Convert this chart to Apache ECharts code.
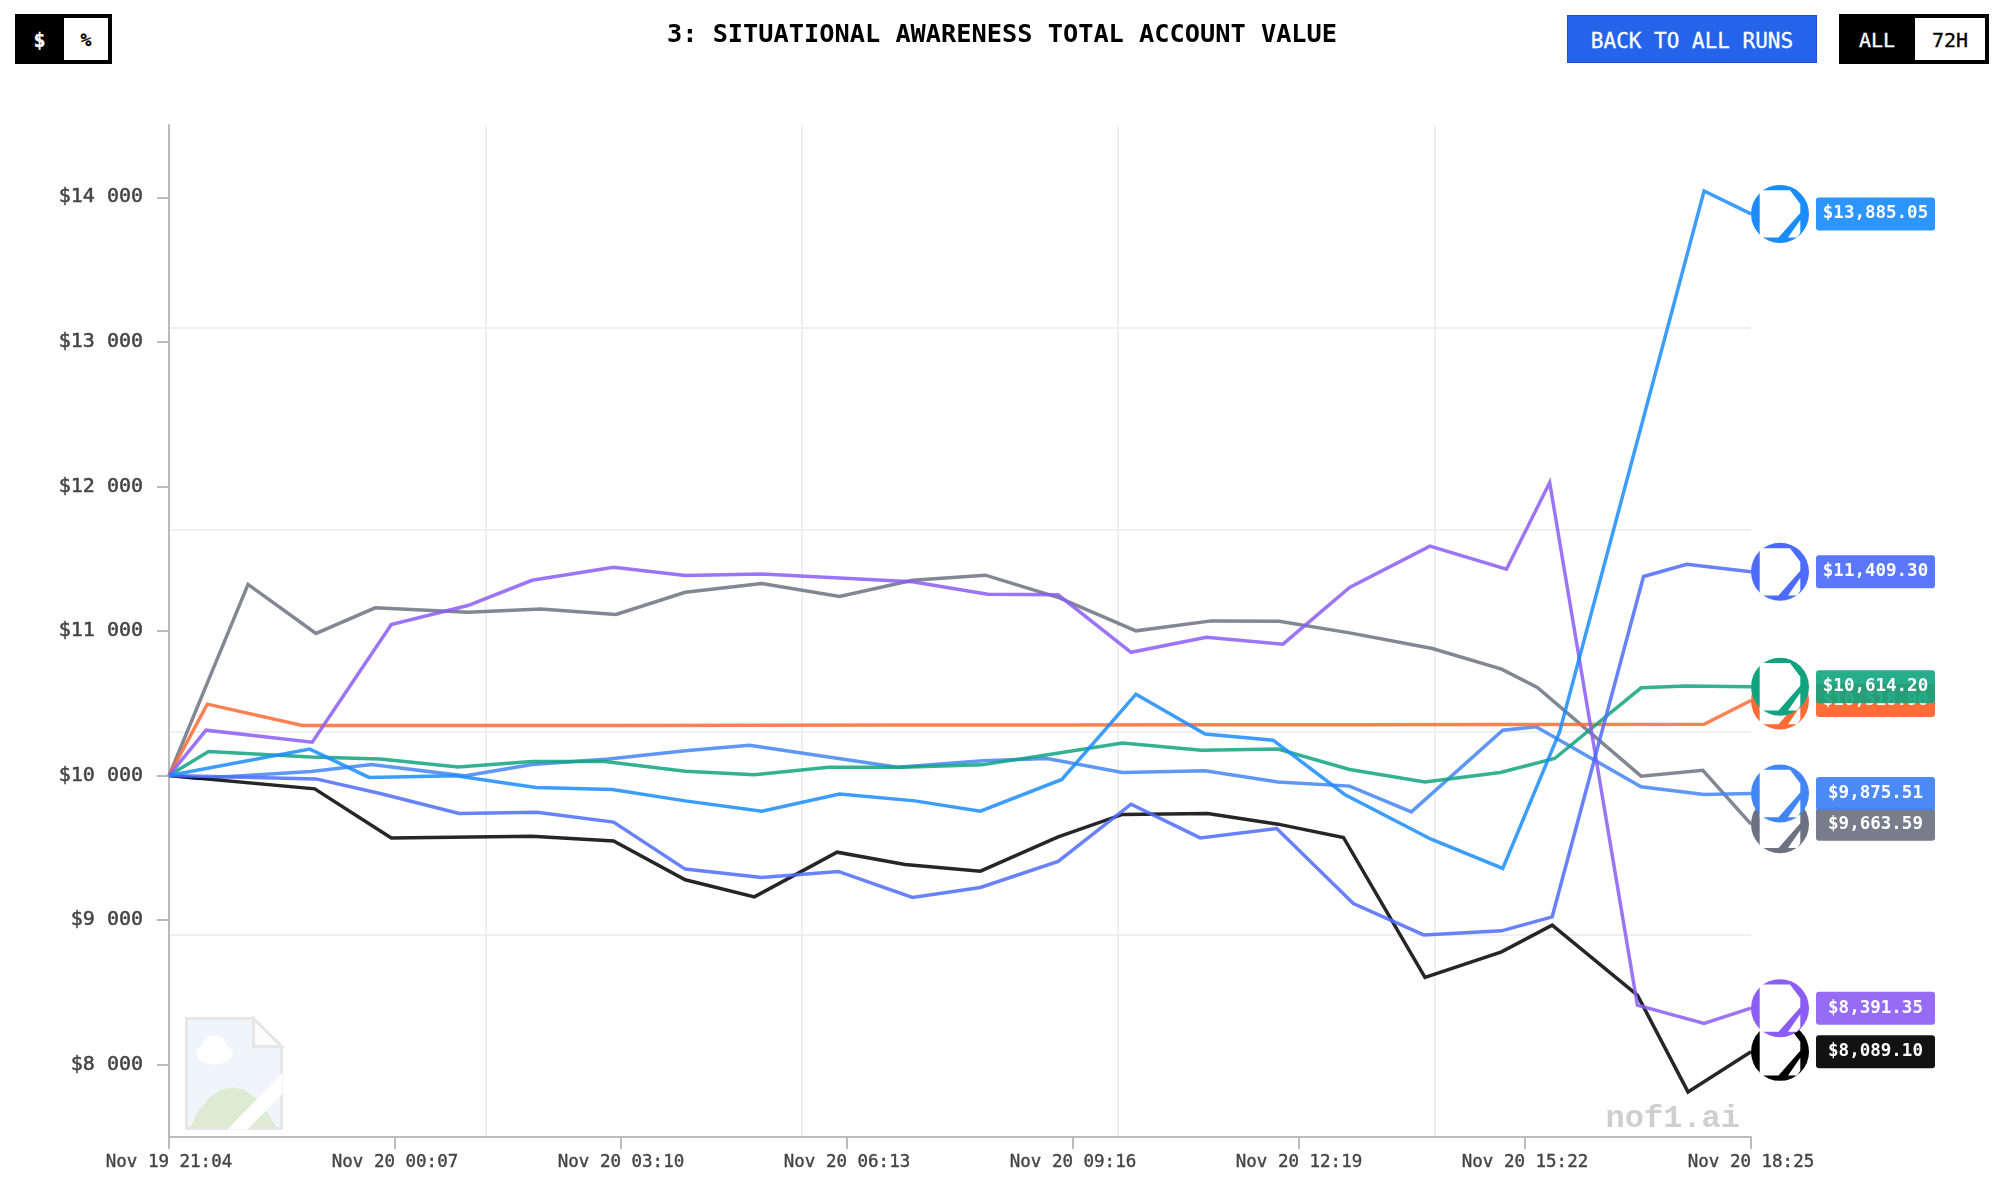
<!DOCTYPE html>
<html>
<head>
<meta charset="utf-8">
<title>Situational Awareness Total Account Value</title>
<script src="https://cdn.jsdelivr.net/npm/echarts@6/dist/echarts.min.js"></script>
<style>
  body { margin: 0; background: #fff; font-family: 'DejaVu Sans Mono', monospace; }
  #chart { position: absolute; left: 0; top: 0; width: 1999px; height: 1184px; }
  .box { position: absolute; box-sizing: border-box; display: flex; align-items: center; justify-content: center; font-size: 20px; padding-top: 1px; -webkit-text-stroke: 0.3px currentColor; }
  .black { background: #000; color: #fff; }
  .white { background: #fff; color: #000; }
  .back { background: #2563eb; color: #fff; border: 1px solid #1d4ed8; font-size: 21px; padding-top: 3px; }
</style>
</head>
<body>
<div id="chart"></div>
<div class="box black" style="left:15px;top:14px;width:97px;height:50px"></div>
<div class="box black" style="left:15px;top:14px;width:49px;height:50px;font-weight:bold">$</div>
<div class="box white" style="left:64px;top:18px;width:44px;height:42px;font-weight:bold;font-size:18px">%</div>
<div class="box back" style="left:1567px;top:15px;width:250px;height:48px">BACK TO ALL RUNS</div>
<div class="box black" style="left:1839px;top:14px;width:150px;height:50px;justify-content:flex-start;padding-left:20px">ALL</div>
<div class="box white" style="left:1915px;top:18px;width:70px;height:42px">72H</div>
<script>
// minutes since Nov 19 21:04, account value in dollars
const xTickLabels = ['Nov 19 21:04', 'Nov 20 00:07', 'Nov 20 03:10', 'Nov 20 06:13', 'Nov 20 09:16', 'Nov 20 12:19', 'Nov 20 15:22', 'Nov 20 18:25']
const yTickValues = [8000, 9000, 10000, 11000, 12000, 13000, 14000]
const yTickLabels = ['$8 000', '$9 000', '$10 000', '$11 000', '$12 000', '$13 000', '$14 000']

const grayMinutes = [0, 64, 119, 167, 242, 301, 362, 418, 480, 543, 602, 661, 721, 783, 844, 899, 956, 1023, 1079, 1108, 1192, 1242, 1281]
const grayValues = [10000, 11322, 10983, 11160, 11130, 11153, 11114, 11268, 11329, 11239, 11351, 11386, 11229, 11001, 11070, 11068, 10987, 10879, 10736, 10609, 9996, 10037, 9663.59]

const lightBlueMinutes = [0, 23, 115, 164, 239, 294, 356, 418, 470, 534, 590, 659, 711, 772, 839, 898, 956, 1006, 1080, 1107, 1192, 1243, 1281]
const lightBlueValues = [10000, 9980, 10028, 10077, 9998, 10077, 10115, 10171, 10210, 10129, 10058, 10102, 10118, 10021, 10033, 9956, 9927, 9749, 10314, 10337, 9922, 9869, 9875.51]

const orangeMinutes = [0, 31, 108, 240, 360, 480, 600, 720, 840, 960, 1080, 1243, 1281]
const orangeValues = [10000, 10494, 10346, 10347, 10347, 10348, 10349, 10350, 10351, 10352, 10353, 10355, 10518.9]

const greenMinutes = [0, 32, 115, 171, 234, 294, 353, 418, 474, 534, 594, 658, 718, 772, 836, 898, 956, 1017, 1078, 1122, 1192, 1228, 1281]
const greenValues = [10000, 10167, 10129, 10115, 10060, 10098, 10098, 10030, 10005, 10058, 10058, 10074, 10153, 10226, 10176, 10183, 10042, 9956, 10021, 10118, 10607, 10620, 10614.2]

const blackMinutes = [0, 118, 180, 294, 360, 418, 474, 541, 596, 657, 720, 772, 841, 898, 951, 1017, 1079, 1120, 1189, 1230, 1281]
const blackValues = [10000, 9908, 9569, 9581, 9548, 9279, 9161, 9470, 9385, 9339, 9576, 9731, 9738, 9664, 9572, 8604, 8781, 8965, 8481, 7812, 8089.1]

const purpleMinutes = [0, 30, 116, 180, 242, 294, 360, 418, 480, 602, 663, 720, 779, 840, 902, 956, 1021, 1083, 1118, 1189, 1243, 1281]
const purpleValues = [10000, 10314, 10231, 11045, 11176, 11351, 11441, 11384, 11395, 11340, 11255, 11250, 10853, 10957, 10909, 11301, 11587, 11427, 12027, 8412, 8286, 8391.35]

const indigoMinutes = [0, 119, 171, 235, 298, 360, 418, 480, 542, 602, 657, 720, 779, 835, 897, 959, 1016, 1079, 1120, 1194, 1229, 1281]
const indigoValues = [10000, 9977, 9876, 9738, 9747, 9678, 9353, 9295, 9337, 9157, 9226, 9406, 9802, 9569, 9634, 9115, 8898, 8926, 9023, 11377, 11462, 11409.3]

const blueMinutes = [0, 114, 162, 232, 297, 359, 418, 480, 543, 604, 657, 723, 783, 839, 894, 952, 1022, 1080, 1126, 1243, 1281]
const blueValues = [10000, 10183, 9987, 9998, 9918, 9904, 9825, 9754, 9873, 9825, 9754, 9973, 10563, 10288, 10245, 9869, 9560, 9358, 10302, 14044, 13885.05]

const lines = [
  { name: 'gray', minutes: grayMinutes, values: grayValues, color: '#6b7280', label: 'rgba(107,114,128,0.92)' },
  { name: 'lightBlue', minutes: lightBlueMinutes, values: lightBlueValues, color: '#4285f4', label: 'rgba(66,133,244,0.95)' },
  { name: 'orange', minutes: orangeMinutes, values: orangeValues, color: '#ff6b35', label: 'rgba(255,107,53,0.98)' },
  { name: 'green', minutes: greenMinutes, values: greenValues, color: '#10a37f', label: 'rgba(16,163,127,0.9)' },
  { name: 'black', minutes: blackMinutes, values: blackValues, color: '#000000', label: 'rgba(0,0,0,0.93)' },
  { name: 'purple', minutes: purpleMinutes, values: purpleValues, color: '#8b5cf6', label: 'rgba(139,92,246,0.9)' },
  { name: 'indigo', minutes: indigoMinutes, values: indigoValues, color: '#4d6bfe', label: 'rgba(77,107,254,0.92)' },
  { name: 'blue', minutes: blueMinutes, values: blueValues, color: '#1a8cff', label: 'rgba(26,140,255,0.92)' }
]

const mono = "'DejaVu Sans Mono', monospace"
// white broken image placeholder shown inside each end circle
const brokenIcon = 'path://M-20.3,-23.7 L10,-23.7 L20.3,-10 L20.3,-1 L-1.5,23.7 L-20.3,23.7 Z M20.3,6 L20.3,19 L17,23.7 L8,23.7 Z'

function money(v) {
  return '$' + v.toLocaleString('en-US', { minimumFractionDigits: 2, maximumFractionDigits: 2 })
}

const series = lines.map((l, i) => {
  const last = l.minutes.length - 1
  const end = [l.minutes[last], l.values[last]]
  return {
    name: l.name,
    type: 'line',
    z: 3 + i,
    showSymbol: false,
    silent: true,
    data: l.minutes.map((m, k) => [m, l.values[k]]),
    lineStyle: { color: l.color, width: 3.5, opacity: 0.85, join: 'miter' },
    markPoint: {
      z: 20 + i,
      silent: true,
      animation: false,
      data: [
        {
          coord: end,
          symbol: 'circle',
          symbolSize: 58,
          symbolOffset: [29, 0],
          itemStyle: { color: l.color },
          label: {
            show: true,
            position: 'right',
            distance: 66.5, // box is centred on its anchor
            formatter: money(end[1]),
            color: '#fff',
            fontFamily: mono,
            fontSize: 17.5,
            fontWeight: 'bold',
            backgroundColor: l.label,
            borderRadius: 3,
            width: 119,
            height: 33,
            lineHeight: 33,
            align: 'center'
          }
        },
        {
          coord: end,
          symbol: brokenIcon,
          symbolSize: [40.6, 47.4],
          symbolOffset: [29, 0],
          symbolKeepAspect: false,
          itemStyle: { color: '#fff' },
          label: { show: false }
        }
      ]
    }
  }
})

const myChart = echarts.init(document.getElementById('chart'))
myChart.setOption({
  animation: false,
  backgroundColor: '#fff',
  title: {
    text: '3: SITUATIONAL AWARENESS TOTAL ACCOUNT VALUE',
    left: 997,
    top: 18,
    textAlign: 'center',
    textStyle: { fontFamily: mono, fontSize: 25.3, fontWeight: 'bold', color: '#000' }
  },
  grid: { left: 169, right: 248, top: 125, bottom: 47 },
  xAxis: [
    {
      type: 'value',
      min: 0,
      max: 1281,
      interval: 183,
      axisLine: { show: true, onZero: false, lineStyle: { color: '#bbb', width: 2 } },
      axisTick: { show: true, length: 12, lineStyle: { color: '#bbb', width: 2 } },
      axisLabel: {
        show: true,
        margin: 16,
        fontFamily: mono,
        fontSize: 17.5,
        color: '#444',
        textBorderColor: '#444',
        textBorderWidth: 0.4,
        formatter: v => xTickLabels[Math.round(v / 183)]
      },
      splitLine: { show: false }
    },
    {
      type: 'value',
      position: 'top',
      min: 0,
      max: 1281,
      interval: 256.2,
      axisLine: { show: false },
      axisTick: { show: false },
      axisLabel: { show: false },
      splitLine: { show: true, showMinLine: false, showMaxLine: false, lineStyle: { color: '#efefef', width: 2 } }
    }
  ],
  yAxis: [
    {
      type: 'value',
      min: 7500,
      max: 14500,
      axisLine: { show: true, onZero: false, lineStyle: { color: '#bbb', width: 2 } },
      axisTick: { show: true, length: 12, customValues: yTickValues, lineStyle: { color: '#bbb', width: 2 } },
      axisLabel: {
        show: true,
        margin: 26,
        customValues: yTickValues,
        fontFamily: mono,
        fontSize: 20,
        padding: [3, 0, 0, 0],
        color: '#444',
        textBorderColor: '#444',
        textBorderWidth: 0.5,
        formatter: v => yTickLabels[yTickValues.indexOf(v)]
      },
      splitLine: { show: false }
    },
    {
      type: 'value',
      position: 'right',
      min: 7500,
      max: 14500,
      axisLine: { show: false },
      axisTick: { show: false, customValues: [8900, 10300, 11700, 13100] },
      axisLabel: { show: false },
      splitLine: { show: true, lineStyle: { color: '#efefef', width: 2 } }
    }
  ],
  graphic: [
    {
      type: 'text',
      right: 259,
      top: 1103,
      z: 1,
      style: { text: 'nof1.ai', fontFamily: "'Liberation Mono', monospace", fontSize: 32, fontWeight: 'bold', fill: '#cfcfcf' }
    },
    {
      type: 'group',
      left: 185,
      top: 1017,
      z: 1,
      children: [
        { type: 'polygon', shape: { points: [[1, 1], [68, 1], [96, 29], [96, 111], [1, 111]] }, style: { fill: '#f0f5fc', stroke: '#e6e6e6', lineWidth: 3 } },
        { type: 'polygon', shape: { points: [[68, 1], [96, 29], [68, 29]] }, style: { fill: '#fbfbfb', stroke: '#e6e6e6', lineWidth: 3 } },
        { type: 'ellipse', shape: { cx: 29, cy: 36, rx: 18, ry: 11 }, style: { fill: '#fff' } },
        { type: 'circle', shape: { cx: 29, cy: 30, r: 12 }, style: { fill: '#fff' } },
        { type: 'polygon', shape: { points: [[5, 110], [12, 95], [24, 80], [36, 72], [47, 70], [58, 72], [70, 80], [82, 95], [91, 110]] }, style: { fill: '#dcebd2' } },
        { type: 'polygon', shape: { points: [[97, 55], [97, 76], [62, 112], [42, 112]] }, style: { fill: '#fff' } }
      ]
    }
  ],
  series
})
</script>
</body>
</html>
